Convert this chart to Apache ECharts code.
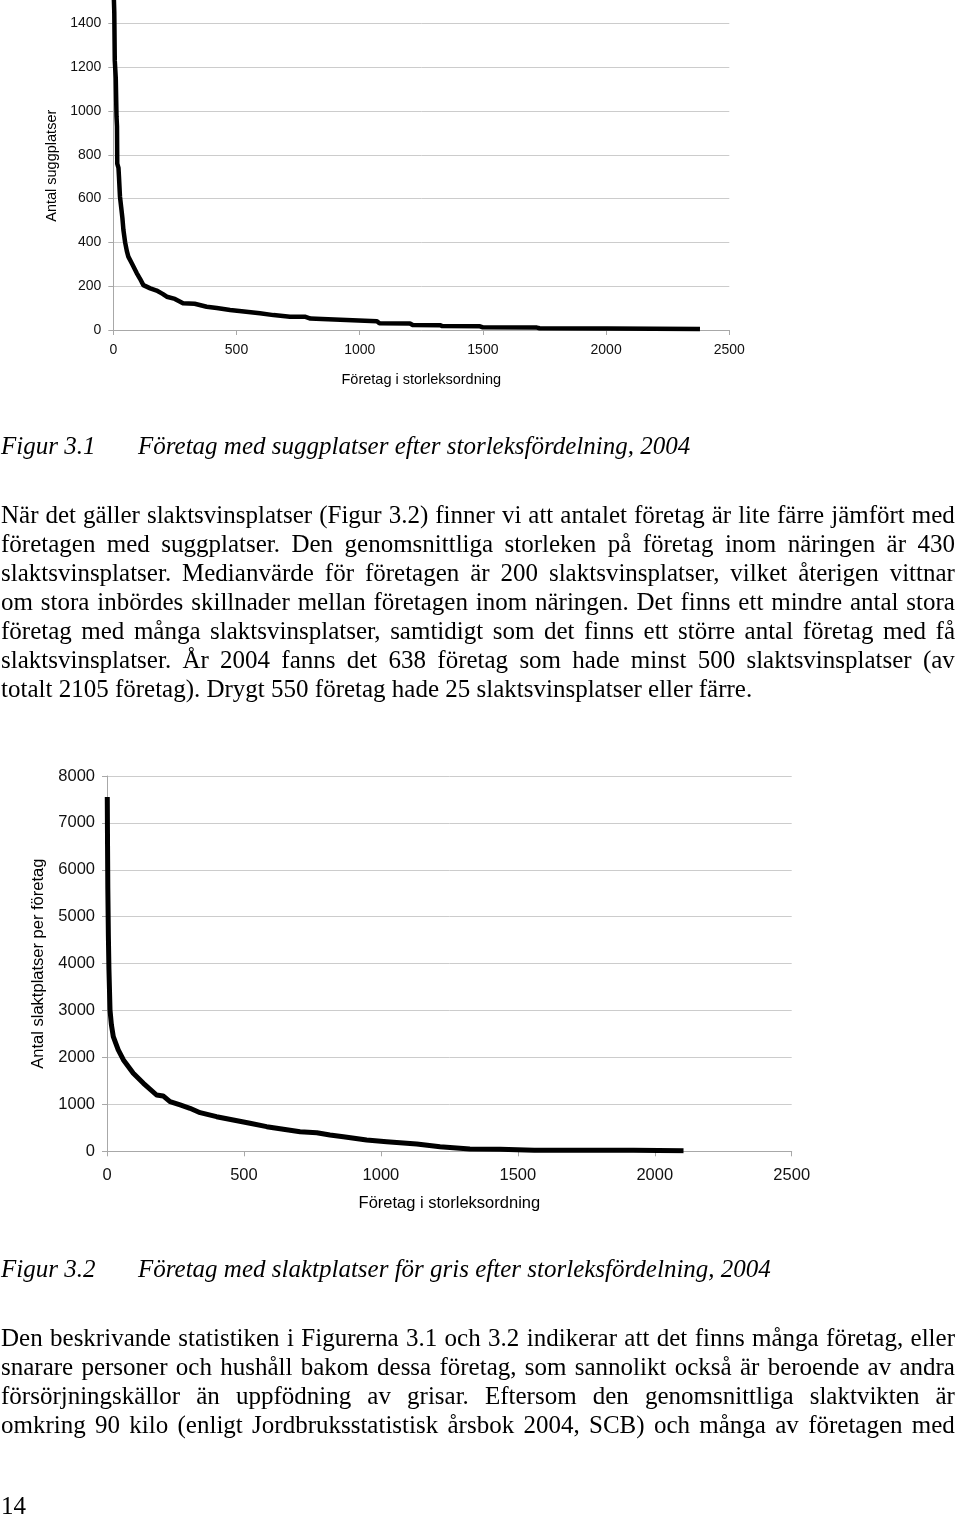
<!DOCTYPE html>
<html>
<head>
<meta charset="utf-8">
<script src="https://cdn.jsdelivr.net/npm/echarts@6/dist/echarts.min.js"></script>
<style>
  html, body { margin:0; padding:0; background:#fff; }
  #page { position:relative; width:960px; height:1519px; overflow:hidden; }
  #c { position:absolute; left:0; top:0; width:960px; height:1519px; }
  .t { position:absolute; left:1px; width:954px; font-family:"Liberation Serif","Times New Roman",serif; font-size:25px; line-height:29px; color:#000; white-space:nowrap; }
  .j { display:flex; justify-content:space-between; }
  .i { font-style:italic; }
</style>
</head>
<body>
<div id="page">
  <div id="c"></div>
  <div id="txt"></div>
</div>
<script>
// ---------- data ----------
// Figur 3.1: sows places per company, ranked
const s1Rank  = [1, 4, 6, 10, 13, 15, 16, 21, 23, 27, 32, 37, 41, 48, 55, 61, 75, 95, 108, 122, 150, 176, 200, 217, 250, 283, 330, 379, 420, 474, 530, 595, 650, 717, 780, 800, 847, 855, 1070, 1080, 1204, 1215, 1326, 1335, 1488, 1500, 1719, 1730, 2003, 2010, 2381];
const s1Value = [1560, 1450, 1230, 1150, 975, 930, 760, 740, 700, 610, 560, 510, 457, 400, 360, 335, 305, 260, 235, 205, 190, 180, 165, 152, 142, 122, 120, 106, 100, 91, 84, 76, 68, 61, 60, 52, 50, 41, 40, 31, 30, 23, 22, 18, 17, 12, 11, 8, 7, 5, 5];
// Figur 3.2: slaughter pig places per company, ranked
const s2Rank  = [1, 2, 3, 5, 7, 11, 16, 23, 41, 60, 96, 133, 181, 205, 230, 267, 303, 340, 400, 461, 522, 583, 644, 705, 766, 814, 863, 948, 1021, 1131, 1216, 1325, 1435, 1560, 1678, 1922, 2105];
const s2Value = [7550, 6500, 5600, 4600, 3900, 3013, 2700, 2444, 2160, 1947, 1663, 1450, 1200, 1180, 1058, 987, 917, 823, 738, 667, 597, 525, 469, 418, 397, 348, 311, 241, 205, 156, 98, 49, 43, 25, 24, 21, 13];

const xTicks  = [0, 500, 1000, 1500, 2000, 2500];
const y1Ticks = [0, 200, 400, 600, 800, 1000, 1200, 1400];
const y2Ticks = [0, 1000, 2000, 3000, 4000, 5000, 6000, 7000, 8000];

const xName  = 'Företag i storleksordning';
const y1Name = 'Antal suggplatser';
const y2Name = 'Antal slaktplatser per företag';

const cap1 = ['Figur 3.1', 'Företag med suggplatser efter storleksfördelning, 2004'];
const cap2 = ['Figur 3.2', 'Företag med slaktplatser för gris efter storleksfördelning, 2004'];
const para1 = [
  'När det gäller slaktsvinsplatser (Figur 3.2) finner vi att antalet företag är lite färre jämfört med',
  'företagen med suggplatser. Den genomsnittliga storleken på företag inom näringen är 430',
  'slaktsvinsplatser. Medianvärde för företagen är 200 slaktsvinsplatser, vilket återigen vittnar',
  'om stora inbördes skillnader mellan företagen inom näringen. Det finns ett mindre antal stora',
  'företag med många slaktsvinsplatser, samtidigt som det finns ett större antal företag med få',
  'slaktsvinsplatser. År 2004 fanns det 638 företag som hade minst 500 slaktsvinsplatser (av',
  'totalt 2105 företag). Drygt 550 företag hade 25 slaktsvinsplatser eller färre.'
];
const para2 = [
  'Den beskrivande statistiken i Figurerna 3.1 och 3.2 indikerar att det finns många företag, eller',
  'snarare personer och hushåll bakom dessa företag, som sannolikt också är beroende av andra',
  'försörjningskällor än uppfödning av grisar. Eftersom den genomsnittliga slaktvikten är',
  'omkring 90 kilo (enligt Jordbruksstatistisk årsbok 2004, SCB) och många av företagen med'
];
const pageNo = '14';

// ---------- text ----------
const txt = document.getElementById('txt');
function addLine(str, centerY, justify, cls) {
  const d = document.createElement('div');
  d.className = 't' + (justify ? ' j' : '') + (cls ? ' ' + cls : '');
  d.style.top = (centerY - 15) + 'px';
  if (justify) {
    str.split(' ').forEach(w => { const s = document.createElement('span'); s.textContent = w; d.appendChild(s); });
  } else {
    d.textContent = str;
  }
  txt.appendChild(d);
  return d;
}
function addCaption(cap, centerY) {
  addLine(cap[0], centerY, false, 'i');
  const d = addLine(cap[1], centerY, false, 'i');
  d.style.left = '138px';
  d.style.width = 'auto';
}
addCaption(cap1, 446);
para1.forEach((l, k) => addLine(l, 515 + k * 29, k < para1.length - 1));
addCaption(cap2, 1269);
para2.forEach((l, k) => addLine(l, 1338 + k * 29, true));
addLine(pageNo, 1506, false);

// ---------- chart ----------
const FF = '"Liberation Sans", Arial, sans-serif';
const axisCol = '#a8a8a8';
const gridCol = '#cccccc';
const plain = v => String(v);
function pairs(a, b) { return a.map((v, i) => [v, b[i]]); }

function xAxisCfg(gi, fs, nfs, margin, gap) {
  return {
    gridIndex: gi, type: 'value', min: 0, max: 2500, interval: 500,
    name: xName, nameLocation: 'middle', nameGap: gap,
    nameTextStyle: { fontFamily: FF, fontSize: nfs, color: '#000' },
    axisLine: { show: true, onZero: false, lineStyle: { color: axisCol, width: 1 } },
    axisTick: { show: true, length: 5, lineStyle: { color: axisCol }, customValues: xTicks },
    axisLabel: { fontFamily: FF, fontSize: fs, color: '#111', margin: margin, customValues: xTicks, formatter: plain },
    splitLine: { show: false }
  };
}
function yAxisCfg(gi, name, max, interval, ticks, fs, nfs, margin, gap) {
  return {
    gridIndex: gi, type: 'value', min: 0, max: max, interval: interval,
    name: name, nameLocation: 'middle', nameGap: gap, nameRotate: 90,
    nameTextStyle: { fontFamily: FF, fontSize: nfs, color: '#000' },
    axisLine: { show: true, lineStyle: { color: axisCol, width: 1 } },
    axisTick: { show: true, length: 5, lineStyle: { color: axisCol }, customValues: ticks },
    axisLabel: { fontFamily: FF, fontSize: fs, color: '#111', margin: margin, customValues: ticks, formatter: plain },
    splitLine: { show: true, lineStyle: { color: gridCol, width: 1 } }
  };
}

const chart = echarts.init(document.getElementById('c'), null, { renderer: 'canvas' });
chart.setOption({
  animation: false,
  backgroundColor: 'transparent',
  grid: [
    { left: 113.3, top: 1.5, width: 616, height: 328.5 },
    { left: 107, top: 776, width: 684.7, height: 375.3 }
  ],
  xAxis: [
    xAxisCfg(0, 14, 14.5, 13, 42),
    xAxisCfg(1, 16.5, 16.5, 16, 44)
  ],
  yAxis: [
    yAxisCfg(0, y1Name, 1500, 100, y1Ticks, 14, 14.5, 12, 53),
    yAxisCfg(1, y2Name, 8000, 1000, y2Ticks, 16.5, 16.5, 12, 58)
  ],
  series: [
    { type: 'line', xAxisIndex: 0, yAxisIndex: 0, data: pairs(s1Rank, s1Value), showSymbol: false, clip: true,
      lineStyle: { color: '#000', width: 4.5, join: 'round' } },
    { type: 'line', xAxisIndex: 1, yAxisIndex: 1, data: pairs(s2Rank, s2Value), showSymbol: false, clip: true,
      lineStyle: { color: '#000', width: 5, join: 'round' } }
  ]
});
</script>
</body>
</html>
